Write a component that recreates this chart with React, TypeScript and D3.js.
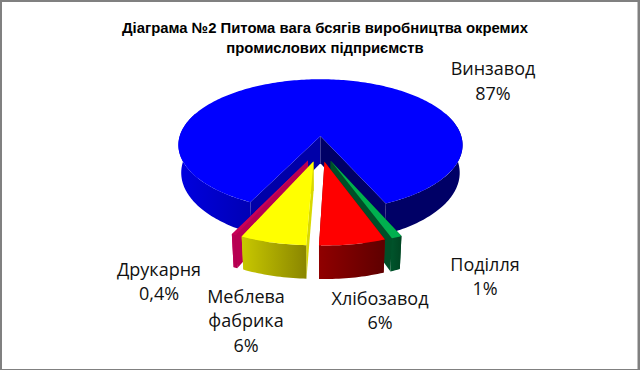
import React from "react";
import * as d3 from "d3";

const categories = ["Винзавод", "Поділля", "Хлібозавод", "Меблева фабрика", "Друкарня"];
const values = [87, 1, 6.3, 6.3, 0.4];
const titleLines = ["Діаграма №2 Питома вага бсягів виробництва окремих", "промислових підприємств"];
const labelLines = [["Винзавод", "87%"], ["Поділля", "1%"], ["Хлібозавод", "6%"], ["Меблева", "фабрика", "6%"], ["Друкарня", "0,4%"]];
const labelAnchors = [[493, 75], [485, 270.5], [380, 304.5], [246, 302.5], [159, 275.5]];
const topColors = ["#0000ff", "#00b04f", "#ff0000", "#ffff00", "#c80058"];
const wallColors = ["#0000a8", "#004f28", "#7a0000", "#d8d800", "#b80052"];
const frontGrad = [["#0000e0", "#0000b4"], ["#00552c", "#004522"], ["#900000", "#5e0000"], ["#c8c800", "#8a8600"], ["#c00058", "#b0004e"]];

const W = 640, H = 370;
const cx = 320, cy = 148.6, R = 144.5, B = 68, k = 0.14, depth = 28, explode = 0.19;
const rotation = Math.PI / 180;

type P = [number, number];
const project = (x: number, y: number, z = 0): P => {
  const w = 1 - k * y;
  return [cx + (R * x / w) * (1 - 0.02 * z), cy + (B * y) / w + (z * depth) / w];
};

const total = d3.sum(values);
const blueAngle = (values[0] / total) * 2 * Math.PI;
const pie = d3.pie<number>().sort(null).startAngle(rotation - blueAngle / 2).endAngle(rotation + 2 * Math.PI - blueAngle / 2);
const arcs = pie(values);

const line = d3.line().curve(d3.curveLinear);

function sliceGeo(a: d3.PieArcDatum<number>) {
  const mid = (a.startAngle + a.endAngle) / 2;
  const ox = explode * Math.sin(mid), oy = -explode * Math.cos(mid);
  const pt = (t: number, r: number, z: number) => project(ox + r * Math.sin(t), oy - r * Math.cos(t), z);
  const arcT = (t0: number, t1: number, z: number): P[] => {
    const n = Math.max(2, Math.ceil(Math.abs(t1 - t0) / 0.02));
    return d3.range(n + 1).map((i) => pt(t0 + ((t1 - t0) * i) / n, 1, z));
  };
  return { pt, arcT };
}

function band(a: d3.PieArcDatum<number>, t0: number, t1: number) {
  const { arcT } = sliceGeo(a);
  return line([...arcT(t0, t1, 0), ...arcT(t0, t1, 1).reverse()]) + "Z";
}
function radialWall(a: d3.PieArcDatum<number>, t: number) {
  const { pt } = sliceGeo(a);
  return line([pt(t, 0, 0), pt(t, 1, 0), pt(t, 1, 1), pt(t, 0, 1)]) + "Z";
}
function top(a: d3.PieArcDatum<number>) {
  const { pt, arcT } = sliceGeo(a);
  return line([pt(a.startAngle, 0, 0), ...arcT(a.startAngle, a.endAngle, 0)]) + "Z";
}

const drawOrder = [4, 1, 3, 2];

export default function App() {
  const blue = arcs[0];
  return (
    <svg width={W} height={H} viewBox={`0 0 ${W} ${H}`} style={{ position: "absolute", left: 0, top: 0, display: "block" }}>
      <defs>
        {frontGrad.map((g, i) => (
          <linearGradient key={i} id={`fg${i}`} x1="0" x2="1" y1="0" y2="0">
            <stop offset="0" stopColor={g[0]} />
            <stop offset="1" stopColor={g[1]} />
          </linearGradient>
        ))}
      </defs>
      <rect x={0} y={0} width={W} height={H} fill="#808080" />
      <rect x={2} y={2} width={635.5} height={367} fill="#ffffff" />

      <g>
        <path d={band(blue, blue.startAngle, -1.2)} fill="url(#fg0)" />
        <path d={band(blue, 1.2, blue.endAngle)} fill="#000066" />
        <path d={radialWall(blue, blue.startAngle)} fill={wallColors[0]} />
        <path d={radialWall(blue, blue.endAngle)} fill="#000066" />
        <path d={top(blue)} fill={topColors[0]} />
      </g>

      {drawOrder.map((i) => {
        const a = arcs[i];
        return (
          <g key={i}>
            <path d={radialWall(a, a.startAngle)} fill={wallColors[i]} />
            <path d={radialWall(a, a.endAngle)} fill={wallColors[i]} />
            <path d={band(a, a.startAngle, a.endAngle)} fill={`url(#fg${i})`} />
            <path d={top(a)} fill={topColors[i]} />
          </g>
        );
      })}

      <text textAnchor="middle" fontFamily="'Liberation Sans', Arial, sans-serif" fontWeight="bold" fontSize={14.85} fill="#000">
        {titleLines.map((t, i) => (
          <tspan key={i} x={325} y={33 + i * 19.5}>{t}</tspan>
        ))}
      </text>

      {labelLines.map((lines, i) => (
        <text key={categories[i]} textAnchor="middle" fontFamily="'Open Sans', sans-serif" fontSize={18} fill="#111">
          {lines.map((t, j) => (
            <tspan key={j} x={labelAnchors[i][0]} y={labelAnchors[i][1] + j * 24.5}>{t}</tspan>
          ))}
        </text>
      ))}
    </svg>
  );
}
